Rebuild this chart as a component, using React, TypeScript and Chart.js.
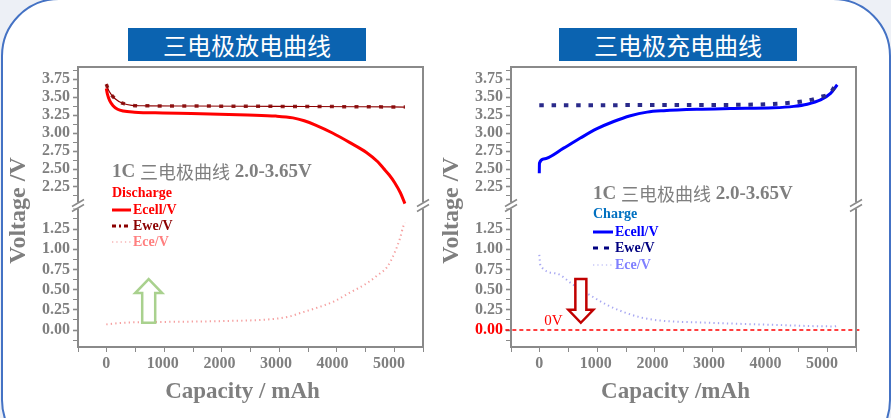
import React, { useEffect, useRef } from 'react';
import { Chart, registerables } from 'chart.js';

Chart.register(...registerables);

// ---------------- data (capacity mAh / voltage V) ----------------
// Discharge 三电极放电曲线
const dchEcellCap = [0, 20, 60, 120, 200, 300, 500, 1000, 1500, 2000, 2500, 3000, 3300, 3500, 3700, 4000, 4300, 4600, 4800, 4900, 5000, 5100, 5200, 5280];
const dchEcellV = [3.62, 3.54, 3.45, 3.38, 3.33, 3.305, 3.29, 3.278, 3.27, 3.26, 3.25, 3.235, 3.21, 3.17, 3.11, 3.0, 2.87, 2.73, 2.6, 2.51, 2.42, 2.31, 2.17, 2.02];
const dchEweCap = [0, 50, 150, 300, 450, 700, 1500, 3000, 4500, 5280];
const dchEweV = [3.68, 3.58, 3.48, 3.41, 3.385, 3.378, 3.375, 3.37, 3.365, 3.36];
const dchEceCap = [0, 300, 1000, 2000, 3000, 3250, 3430, 3700, 4016, 4300, 4611, 4800, 4965, 5100, 5200, 5250, 5280];
const dchEceV = [0.07, 0.09, 0.1, 0.11, 0.14, 0.17, 0.21, 0.27, 0.35, 0.46, 0.58, 0.68, 0.78, 0.96, 1.15, 1.28, 1.33];

// Charge 三电极充电曲线
const chgEcellCap = [0, 3, 76, 430, 726, 1021, 1315, 1611, 1906, 2200, 2791, 3380, 4142, 4500, 4738, 4973, 5150, 5268];
const chgEcellV = [2.44, 2.58, 2.64, 2.79, 2.93, 3.06, 3.16, 3.24, 3.29, 3.31, 3.33, 3.34, 3.35, 3.37, 3.4, 3.46, 3.55, 3.67];
const chgEweCap = [0, 1000, 2000, 3000, 4000, 4566, 4797, 4973, 5150, 5274];
const chgEweV = [3.385, 3.385, 3.39, 3.39, 3.4, 3.43, 3.46, 3.5, 3.56, 3.73];
const chgEceCap = [0, 20, 300, 600, 900, 1200, 1500, 1800, 2100, 3000, 4100, 5200, 5270];
const chgEceV = [0.93, 0.8, 0.7, 0.56, 0.43, 0.31, 0.22, 0.155, 0.12, 0.09, 0.065, 0.045, 0.05];

const zeroLineCap = [-600, 5690];
const zeroLineV = [0, 0];

// axis ranges and tick labels
const xMin = -500;
const xMax = 5600;
const yTopMin = 1.993;
const yTopMax = 3.917;
const yBotMin = -0.21;
const yBotMax = 1.541;
const xTickLabels = [0, 1000, 2000, 3000, 4000, 5000];
const yTopTickLabels = [2.25, 2.5, 2.75, 3.0, 3.25, 3.5, 3.75];
const yBotTickLabels = [0, 0.25, 0.5, 0.75, 1.0, 1.25];

// ---------------- styles ----------------
const SERIF = '"Liberation Serif", "Times New Roman", serif';
const CJK = '"Noto Sans CJK SC", "Noto Sans", sans-serif';
const GRAY = '#7F7F7F';
const FRAME = '#8A8A8A';

const pts = (xs: number[], ys: number[]) => xs.map((x, i) => ({ x, y: ys[i] }));
const has = (list: number[], v: number) => list.some((l) => Math.abs(l - v) < 1e-6);

type LegendRow = { label: string; color: string; text: string; dash: number[]; width: number };
type ArrowSpec = { x: number; y1: number; y2: number; dir: 'up' | 'down'; color: string; headW: number; shaftW: number; headH: number };
type PanelSpec = {
  canvasLeft: number;
  canvasWidth: number;
  yWidth: number;
  padRight: number;
  xTitle: string;
  yTitleX: number;
  datasets: any[];
  noteDx: number;
  noteDy: number;
  head: string;
  headColor: string;
  headDy: number;
  legendDx: number;
  sampleW: number;
  textDx: number;
  rowDys: number[];
  rows: LegendRow[];
  arrow: ArrowSpec;
  zeroMark: boolean;
};

const lineDs = (data: any[], yAxisID: string, color: string, width: number, dash: number[] = []) => ({
  data,
  yAxisID,
  xAxisID: 'x',
  borderColor: color,
  backgroundColor: color,
  borderWidth: width,
  borderDash: dash,
  pointRadius: 0,
  fill: false,
  cubicInterpolationMode: 'monotone',
});

const dischargePanel: PanelSpec = {
  canvasLeft: 0,
  canvasWidth: 440,
  yWidth: 78,
  padRight: 17,
  xTitle: 'Capacity / mAh',
  yTitleX: 19,
  datasets: [
    lineDs(pts(dchEceCap, dchEceV), 'yBot', '#F5A0A0', 2, [1.3, 3.2]),
    lineDs(pts(dchEweCap, dchEweV), 'yTop', '#8B0000', 1.2),
    lineDs(pts(dchEweCap, dchEweV), 'yTop', '#922424', 3.5, [4, 8.3]),
    lineDs(pts(dchEcellCap, dchEcellV), 'yTop', '#FF0000', 3),
  ],
  noteDx: 34,
  noteDy: 105,
  head: 'Discharge',
  headColor: '#FF0000',
  headDy: 126,
  legendDx: 34,
  sampleW: 19,
  textDx: 55,
  rowDys: [143, 159, 175],
  rows: [
    { label: 'Ecell/V', color: '#FF0000', text: '#FF0000', dash: [], width: 3 },
    { label: 'Ewe/V', color: '#8B0000', text: '#8B0000', dash: [4, 3, 2, 3], width: 3 },
    { label: 'Ece/V', color: '#F7B5B5', text: '#FF7F7F', dash: [1.3, 3], width: 1.5 },
  ],
  arrow: { x: 750, y1: 0.63, y2: 0.09, dir: 'up', color: '#A9D18E', headW: 27, shaftW: 13, headH: 14 },
  zeroMark: false,
};

const chargePanel: PanelSpec = {
  canvasLeft: 440,
  canvasWidth: 451,
  yWidth: 71,
  padRight: 35,
  xTitle: 'Capacity /mAh',
  yTitleX: 12,
  datasets: [
    { ...lineDs(pts(zeroLineCap, zeroLineV), 'yBot', '#FF0000', 1.5, [4, 3]), clip: false, cubicInterpolationMode: 'default' },
    lineDs(pts(chgEceCap, chgEceV), 'yBot', '#A8A8F2', 2, [1.3, 3.2]),
    lineDs(pts(chgEweCap, chgEweV), 'yTop', '#2A2A8A', 4, [4.5, 7.8]),
    lineDs(pts(chgEcellCap, chgEcellV), 'yTop', '#0000FF', 3),
  ],
  noteDx: 82,
  noteDy: 127,
  head: 'Charge',
  headColor: '#0070C0',
  headDy: 147,
  legendDx: 82,
  sampleW: 20,
  textDx: 104,
  rowDys: [165, 181, 198],
  rows: [
    { label: 'Ecell/V', color: '#0000FF', text: '#0000FF', dash: [], width: 3 },
    { label: 'Ewe/V', color: '#000080', text: '#000080', dash: [5, 6], width: 3 },
    { label: 'Ece/V', color: '#C8C8F8', text: '#8080FF', dash: [1.3, 3], width: 1.5 },
  ],
  arrow: { x: 735, y1: 0.63, y2: 0.09, dir: 'down', color: '#C00000', headW: 25, shaftW: 11, headH: 13 },
  zeroMark: true,
};

function makeDecor(p: PanelSpec) {
  return {
    id: 'decor' + p.canvasLeft,
    afterDraw(chart: any) {
      const ctx: CanvasRenderingContext2D = chart.ctx;
      const { left, right, top, bottom } = chart.chartArea;
      const xs = chart.scales.x;
      const yT = chart.scales.yTop;
      const yB = chart.scales.yBot;
      const brk = (yT.bottom + yB.top) / 2;
      ctx.save();

      // frame with axis break
      ctx.fillStyle = '#FFFFFF';
      ctx.fillRect(left - 8, brk - 3, 16, 6);
      ctx.fillRect(right - 8, brk - 3, 16, 6);
      ctx.strokeStyle = FRAME;
      ctx.lineWidth = 2;
      ctx.beginPath();
      ctx.moveTo(left, brk - 3);
      ctx.lineTo(left, top);
      ctx.lineTo(right, top);
      ctx.lineTo(right, brk - 3);
      ctx.moveTo(left, brk + 3);
      ctx.lineTo(left, bottom);
      ctx.lineTo(right, bottom);
      ctx.lineTo(right, brk + 3);
      ctx.stroke();
      ctx.lineWidth = 1.5;
      for (const ex of [left, right]) {
        for (const d of [-2.5, 2.5]) {
          ctx.beginPath();
          ctx.moveTo(ex - 6, brk + d + 3.5);
          ctx.lineTo(ex + 6, brk + d - 3.5);
          ctx.stroke();
        }
      }

      // x tick labels, placed through the x scale
      ctx.fillStyle = GRAY;
      ctx.font = `bold 16px ${SERIF}`;
      ctx.textAlign = 'center';
      ctx.textBaseline = 'middle';
      for (const v of xTickLabels) {
        ctx.fillText(String(v), xs.getPixelForValue(v), bottom + 17);
      }

      // axis titles
      ctx.font = `bold 23px ${SERIF}`;
      ctx.fillText(p.xTitle, (left + right) / 2 - 8, chart.height - 26);
      ctx.save();
      ctx.translate(p.yTitleX, brk + 5);
      ctx.rotate(-Math.PI / 2);
      ctx.font = `bold 24px ${SERIF}`;
      ctx.fillText('Voltage /V', 0, 0);
      ctx.restore();

      // note text
      ctx.textAlign = 'left';
      let nx = left + p.noteDx;
      const ny = top + p.noteDy;
      const segs = [
        { t: '1C ', f: `bold 19px ${SERIF}` },
        { t: '三电极曲线', f: `18px ${CJK}` },
        { t: ' 2.0-3.65V', f: `bold 19px ${SERIF}` },
      ];
      for (const s of segs) {
        ctx.font = s.f;
        ctx.fillText(s.t, nx, ny);
        nx += ctx.measureText(s.t).width;
      }

      // legend
      ctx.font = `bold 14px ${SERIF}`;
      ctx.fillStyle = p.headColor;
      ctx.fillText(p.head, left + p.legendDx, top + p.headDy);
      p.rows.forEach((r, i) => {
        const ry = top + p.rowDys[i];
        ctx.strokeStyle = r.color;
        ctx.lineWidth = r.width;
        ctx.setLineDash(r.dash);
        ctx.beginPath();
        ctx.moveTo(left + p.legendDx, ry);
        ctx.lineTo(left + p.legendDx + p.sampleW, ry);
        ctx.stroke();
        ctx.setLineDash([]);
        ctx.fillStyle = r.text;
        ctx.fillText(r.label, left + p.textDx, ry);
      });

      // arrow
      const a = p.arrow;
      const cx = xs.getPixelForValue(a.x);
      const yA = yB.getPixelForValue(a.y1);
      const yZ = yB.getPixelForValue(a.y2);
      ctx.beginPath();
      if (a.dir === 'up') {
        const base = yA + a.headH;
        ctx.moveTo(cx, yA);
        ctx.lineTo(cx + a.headW / 2, base);
        ctx.lineTo(cx + a.shaftW / 2, base);
        ctx.lineTo(cx + a.shaftW / 2, yZ);
        ctx.lineTo(cx - a.shaftW / 2, yZ);
        ctx.lineTo(cx - a.shaftW / 2, base);
        ctx.lineTo(cx - a.headW / 2, base);
      } else {
        const base = yZ - a.headH;
        ctx.moveTo(cx, yZ);
        ctx.lineTo(cx + a.headW / 2, base);
        ctx.lineTo(cx + a.shaftW / 2, base);
        ctx.lineTo(cx + a.shaftW / 2, yA);
        ctx.lineTo(cx - a.shaftW / 2, yA);
        ctx.lineTo(cx - a.shaftW / 2, base);
        ctx.lineTo(cx - a.headW / 2, base);
      }
      ctx.closePath();
      ctx.fillStyle = '#FFFFFF';
      ctx.fill();
      ctx.strokeStyle = a.color;
      ctx.lineWidth = 2.5;
      ctx.lineJoin = 'miter';
      ctx.stroke();

      // 0V label
      if (p.zeroMark) {
        ctx.font = `15px ${SERIF}`;
        ctx.fillStyle = '#FF0000';
        ctx.textAlign = 'left';
        ctx.fillText('0V', xs.getPixelForValue(90), yB.getPixelForValue(0) - 8.5);
      }
      ctx.restore();
    },
  };
}

function PanelChart({ spec }: { spec: PanelSpec }) {
  const ref = useRef<HTMLCanvasElement | null>(null);
  useEffect(() => {
    if (!ref.current) return;
    const tickFont = { family: SERIF, size: 16, weight: 'bold' as const };
    const grid = (majorStep: number) => ({
      display: true,
      drawOnChartArea: false,
      drawTicks: true,
      tickLength: 5,
      color: FRAME,
      tickColor: FRAME,
      tickWidth: (c: any) => (c.tick && Math.abs(c.tick.value / majorStep - Math.round(c.tick.value / majorStep)) < 1e-6 ? 1.6 : 1),
    });
    const yw = spec.yWidth;
    const chart = new Chart(ref.current, {
      type: 'line',
      data: { datasets: spec.datasets },
      options: {
        responsive: false,
        animation: false,
        events: [],
        layout: { padding: { left: 0, right: spec.padRight, top: 67, bottom: 0 } },
        plugins: { legend: { display: false }, tooltip: { enabled: false } },
        scales: {
          x: {
            type: 'linear',
            position: 'bottom',
            min: xMin,
            max: xMax,
            border: { display: false },
            grid: grid(1000),
            ticks: {
              display: false,
              stepSize: 500,
              autoSkip: false,
              includeBounds: false,
              maxRotation: 0,
            },
            afterFit: (s: any) => {
              s.height = 71;
            },
          },
          yTop: {
            type: 'linear',
            position: 'left',
            stack: 'volt',
            stackWeight: 138.5,
            weight: 2,
            min: yTopMin,
            max: yTopMax,
            border: { display: false },
            grid: grid(0.25),
            ticks: {
              stepSize: 0.125,
              autoSkip: false,
              includeBounds: false,
              padding: 3,
              color: GRAY,
              font: tickFont,
              callback: (v: any) => (has(yTopTickLabels, Number(v)) ? Number(v).toFixed(2) : ''),
            },
            afterFit: (s: any) => {
              s.width = yw;
            },
          },
          yBot: {
            type: 'linear',
            position: 'left',
            stack: 'volt',
            stackWeight: 141.5,
            weight: 1,
            min: yBotMin,
            max: yBotMax,
            border: { display: false },
            grid: grid(0.25),
            ticks: {
              stepSize: 0.125,
              autoSkip: false,
              includeBounds: false,
              padding: 3,
              color: (c: any) => (spec.zeroMark && c.tick && Math.abs(c.tick.value) < 1e-6 ? '#FF0000' : GRAY),
              font: tickFont,
              callback: (v: any) => (has(yBotTickLabels, Number(v)) ? Number(v).toFixed(2) : ''),
            },
            afterFit: (s: any) => {
              s.width = yw;
            },
          },
        },
      } as any,
      plugins: [makeDecor(spec)],
    });
    return () => chart.destroy();
  }, [spec]);
  return (
    <canvas
      ref={ref}
      width={spec.canvasWidth}
      height={418}
      style={{ position: 'absolute', left: spec.canvasLeft, top: 0, width: spec.canvasWidth, height: 418 }}
    />
  );
}

const titleBox = (left: number): React.CSSProperties => ({
  position: 'absolute',
  left,
  top: 28,
  width: 238,
  height: 33,
  background: '#0B63B0',
  color: '#FFFFFF',
  fontFamily: CJK,
  fontSize: 24,
  lineHeight: '33px',
  textAlign: 'center',
  letterSpacing: 0,
});

export default function App() {
  useEffect(() => {
    document.body.style.margin = '0';
  }, []);
  return (
    <div style={{ position: 'fixed', left: 0, top: 0, width: 891, height: 418, overflow: 'hidden', background: '#EDF0F6' }}>
      <div
        style={{
          position: 'absolute',
          left: 1,
          top: -2,
          width: 890,
          height: 460,
          boxSizing: 'border-box',
          border: '2.5px solid #4472C4',
          borderRadius: 58,
          background: '#FFFFFF',
        }}
      />
      <div style={titleBox(128)}>三电极放电曲线</div>
      <div style={titleBox(559)}>三电极充电曲线</div>
      <PanelChart spec={dischargePanel} />
      <PanelChart spec={chargePanel} />
    </div>
  );
}
